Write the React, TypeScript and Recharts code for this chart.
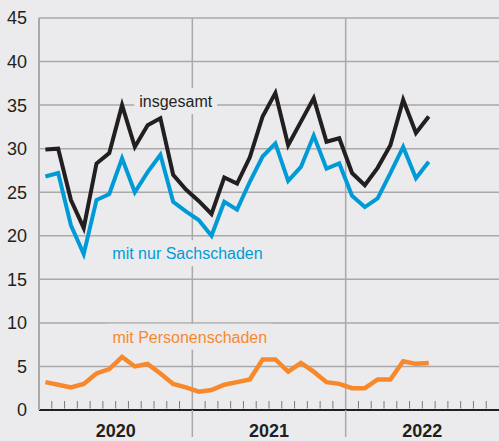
import React from 'react';
import { LineChart, Line, XAxis, YAxis, CartesianGrid, ReferenceLine, ReferenceDot } from 'recharts';

const years = ['2020', '2021', '2022'];
const months = years.flatMap((y) =>
  ['01', '02', '03', '04', '05', '06', '07', '08', '09', '10', '11', '12'].map((m) => `${y}-${m}`)
);

const insgesamt = [
  29.9, 30.0, 24.1, 20.9, 28.3, 29.5, 35.0, 30.2, 32.7, 33.5, 27.0, 25.3,
  24.0, 22.5, 26.7, 26.0, 29.0, 33.7, 36.4, 30.4, 33.1, 35.8, 30.8, 31.2,
  27.2, 25.8, 27.8, 30.4, 35.6, 31.8, 33.7,
];
const sachschaden = [
  26.8, 27.2, 21.2, 17.9, 24.1, 24.8, 28.9, 25.0, 27.3, 29.3, 23.9, 22.8,
  21.8, 20.0, 23.9, 23.0, 26.2, 29.1, 30.6, 26.3, 27.9, 31.5, 27.7, 28.3,
  24.6, 23.3, 24.3, 27.2, 30.2, 26.6, 28.5,
];
const personenschaden = [
  3.2, 2.9, 2.6, 3.0, 4.2, 4.7, 6.1, 5.0, 5.3, 4.2, 3.0, 2.6,
  2.1, 2.3, 2.9, 3.2, 3.5, 5.8, 5.8, 4.4, 5.4, 4.4, 3.2, 3.0,
  2.5, 2.5, 3.5, 3.5, 5.6, 5.3, 5.4,
];
const yTicks = [0, 5, 10, 15, 20, 25, 30, 35, 40, 45];

const BG = '#ebebed';
const GRID = '#a9a9a9';
const DARK = '#231f20';
const BLUE = '#009bd7';
const ORANGE = '#f7892c';
const FONT = '"Liberation Sans", Arial, Helvetica, sans-serif';

const data = insgesamt.map((v, i) => ({
  x: months.indexOf(months[i]) + 0.5,
  month: months[i],
  insgesamt: v,
  sachschaden: sachschaden[i],
  personenschaden: personenschaden[i],
}));

const xTicks = months.slice(1).map((_, i) => i + 1);

const MonthTick = (props: any) => {
  const { x, y, payload } = props;
  const v = payload.value as number;
  const yearIdx = Math.floor(v / 12);
  return (
    <g>
      {v % 12 === 0 ? (
        <line x1={x} x2={x} y1={y} y2={y + 27} stroke={GRID} strokeWidth={1.5} />
      ) : (
        <line x1={x} x2={x} y1={y - 9} y2={y - 1.5} stroke="#7a7a7a" strokeWidth={1} />
      )}
      {v % 12 === 6 && (
        <text x={x} y={y + 27} textAnchor="middle" fontSize={18} fontWeight="bold" fill={DARK} fontFamily={FONT}>
          {years[yearIdx]}
        </text>
      )}
    </g>
  );
};

const makeLabel = (text: string, color: string, w: number) => (p: any) => {
  const { cx, cy } = p;
  return (
    <g>
      <rect x={cx - w / 2} y={cy - 13} width={w} height={26} fill={BG} />
      <text x={cx} y={cy + 5.8} textAnchor="middle" fontSize={16} fill={color} fontFamily={FONT}>
        {text}
      </text>
    </g>
  );
};

export default function App() {
  return (
    <div style={{ position: 'absolute', left: 0, top: 0, width: 499, height: 441, background: BG }}>
      <LineChart width={499} height={441} data={data} margin={{ top: 18, right: 0, bottom: 0, left: 0 }}>
        <CartesianGrid vertical={false} stroke={GRID} strokeWidth={1.5} />
        <XAxis
          type="number"
          dataKey="x"
          domain={[0, 36]}
          ticks={xTicks}
          interval={0}
          tickSize={0}
          tickMargin={0}
          tickLine={false}
          tick={<MonthTick />}
          axisLine={{ stroke: DARK, strokeWidth: 2 }}
          height={31}
          allowDataOverflow
        />
        <YAxis
          type="number"
          domain={[0, 45]}
          ticks={yTicks}
          interval={0}
          width={39}
          tickSize={0}
          tickMargin={12}
          tickLine={false}
          axisLine={{ stroke: GRID, strokeWidth: 2 }}
          tick={{ fontSize: 18, fill: DARK, fontFamily: FONT }}
        />
        <ReferenceLine x={12} stroke={GRID} strokeWidth={1.5} />
        <ReferenceLine x={24} stroke={GRID} strokeWidth={1.5} />
        <ReferenceDot x={10.7} y={35.47} r={0} shape={makeLabel('insgesamt', DARK, 83)} />
        <ReferenceDot x={11.62} y={18.0} r={0} shape={makeLabel('mit nur Sachschaden', BLUE, 160)} />
        <ReferenceDot x={11.8} y={8.41} r={0} shape={makeLabel('mit Personenschaden', ORANGE, 164)} />
        <Line
          dataKey="personenschaden"
          stroke={ORANGE}
          strokeWidth={4.5}
          dot={false}
          isAnimationActive={false}
          strokeLinejoin="miter"
        />
        <Line
          dataKey="sachschaden"
          stroke={BLUE}
          strokeWidth={4}
          dot={false}
          isAnimationActive={false}
          strokeLinejoin="miter"
        />
        <Line
          dataKey="insgesamt"
          stroke={DARK}
          strokeWidth={4}
          dot={false}
          isAnimationActive={false}
          strokeLinejoin="miter"
        />
      </LineChart>
    </div>
  );
}
